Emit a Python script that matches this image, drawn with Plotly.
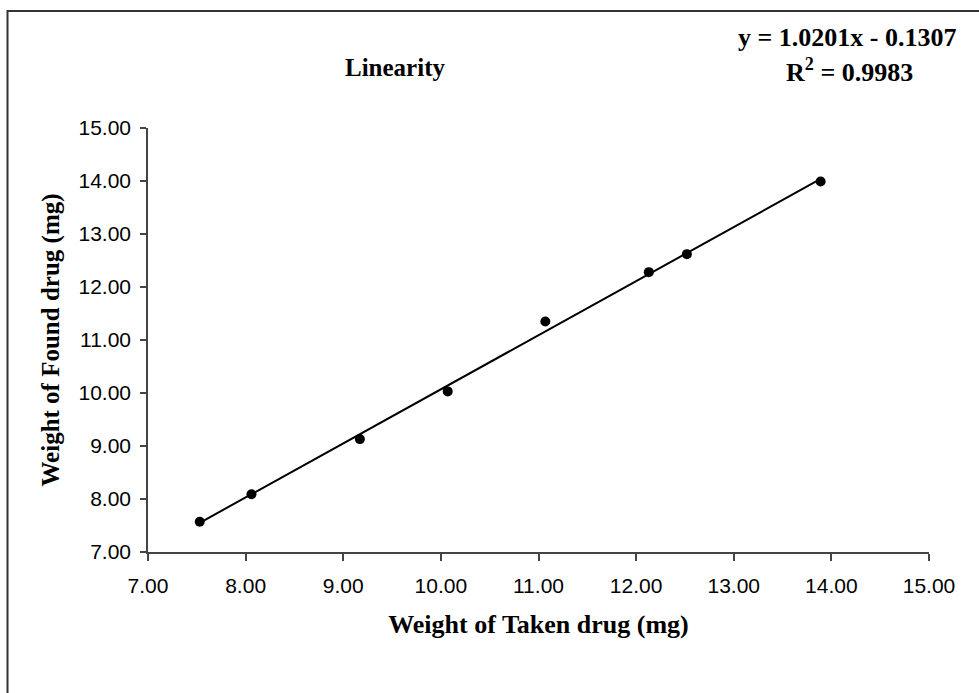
import plotly.graph_objects as go

# Data
taken_mg = [7.53, 8.06, 9.17, 10.07, 11.07, 12.13, 12.52, 13.89]
found_mg = [7.57, 8.09, 9.13, 10.03, 11.35, 12.28, 12.62, 13.99]

slope = 1.0201
intercept = -0.1307
r_squared = 0.9983

x_ticks = [7, 8, 9, 10, 11, 12, 13, 14, 15]
y_ticks = [7, 8, 9, 10, 11, 12, 13, 14, 15]

W, H = 979, 693
L, R, T, B = 148, 50, 128, 141
pw, ph = W - L - R, H - T - B

def px(x):
    return (x - L) / pw

def py(y):
    return (H - B - y) / ph

x_line = [min(taken_mg), max(taken_mg)]
y_line = [slope * v + intercept for v in x_line]

fig = go.Figure()
fig.add_trace(go.Scatter(x=x_line, y=y_line, mode="lines",
                         line=dict(color="black", width=2), hoverinfo="skip"))
fig.add_trace(go.Scatter(x=taken_mg, y=found_mg, mode="markers",
                         marker=dict(color="black", size=10)))

serif = "Liberation Serif, Times New Roman, serif"
sans = "Liberation Sans, Arial, sans-serif"

fig.update_layout(
    width=W, height=H,
    margin=dict(l=L, r=R, t=T, b=B),
    paper_bgcolor="white", plot_bgcolor="white",
    showlegend=False,
    xaxis=dict(range=[7, 15], tickvals=x_ticks,
               ticktext=[f"{v:.2f}" for v in x_ticks],
               showgrid=False, zeroline=False, showline=True,
               linecolor="#444", linewidth=1.5, ticks="outside",
               ticklen=7, tickcolor="#444", tickwidth=1.5,
               ticklabelstandoff=7,
               tickfont=dict(family=sans, size=21, color="black"),
               title=dict(text="<b>Weight of Taken drug (mg)</b>",
                          font=dict(family=serif, size=26, color="black"),
                          standoff=19)),
    yaxis=dict(range=[7, 15], tickvals=y_ticks,
               ticktext=[f"{v:.2f}" for v in y_ticks],
               showgrid=False, zeroline=False, showline=True,
               linecolor="#444", linewidth=1.5, ticks="outside",
               ticklen=6, tickcolor="#444", tickwidth=1.5,
               ticklabelstandoff=5,
               tickfont=dict(family=sans, size=21, color="black"),
               title=dict(text="<b>Weight of Found drug (mg)</b>",
                          font=dict(family=serif, size=25, color="black"),
                          standoff=12)),
    shapes=[dict(type="rect", xref="paper", yref="paper",
                 x0=px(7.5), x1=px(990), y0=py(705), y1=py(11),
                 line=dict(color="#333", width=2), fillcolor="rgba(0,0,0,0)")],
    annotations=[
        dict(text="<b>Linearity</b>", xref="paper", yref="paper",
             x=px(395), y=py(68), showarrow=False,
             xanchor="center", yanchor="middle",
             font=dict(family=serif, size=25, color="black")),
        dict(text=f"<b>y = {slope:.4f}x - {abs(intercept):.4f}</b>",
             xref="paper", yref="paper", x=px(847), y=py(37), showarrow=False,
             xanchor="center", yanchor="middle",
             font=dict(family=serif, size=26, color="black")),
        dict(text=f"<b>R<sup>2</sup> = {r_squared:.4f}</b>",
             xref="paper", yref="paper", x=px(849), y=py(71), showarrow=False,
             xanchor="center", yanchor="middle",
             font=dict(family=serif, size=26, color="black")),
    ],
)

fig.write_html("out.html")
